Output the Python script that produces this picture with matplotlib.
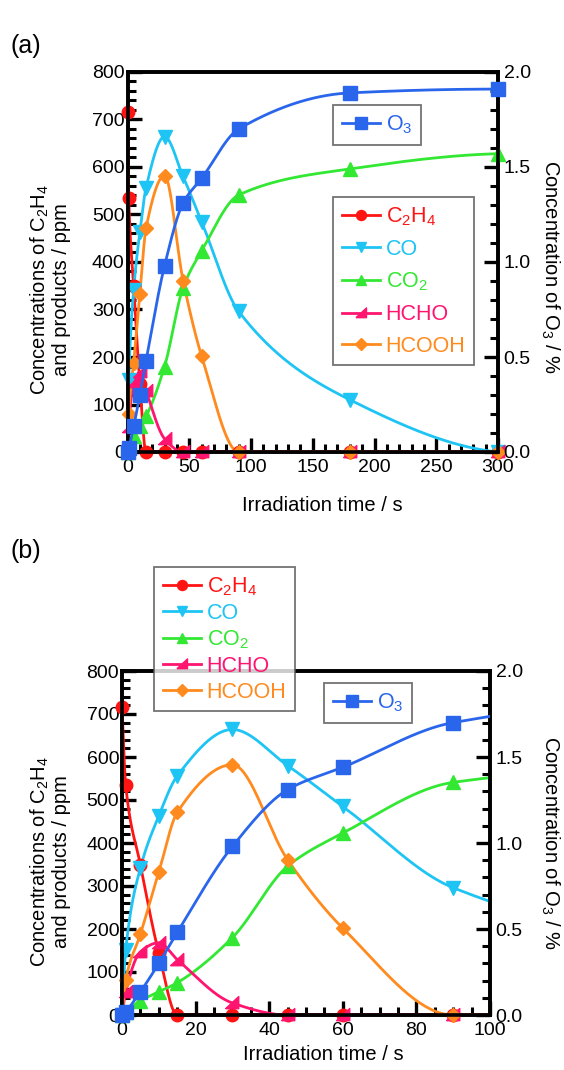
import numpy as np
import matplotlib
matplotlib.use("Agg")
import matplotlib.pyplot as plt
from matplotlib.lines import Line2D
from matplotlib.ticker import MultipleLocator, FormatStrFormatter

plt.rcParams['font.family'] = ['Liberation Sans', 'DejaVu Sans']
plt.rcParams['mathtext.fontset'] = 'custom'
plt.rcParams['mathtext.rm'] = 'Liberation Sans'
plt.rcParams['mathtext.it'] = 'Liberation Sans'
plt.rcParams['mathtext.default'] = 'regular'

# ---------------- data ----------------
time_s = [0, 1, 5, 10, 15, 30, 45, 60, 90, 180, 300]
c2h4 = [716, 535, 349, 144, 0, 0, 0, 0, 0, 0, 0]
co = [0, 151, 342, 463, 556, 664, 580, 485, 296, 110, 0]
co2 = [0, 8, 33, 54, 75, 180, 346, 423, 541, 596, 628]
hcho = [0, 53, 147, 168, 129, 28, 0, 0, 0, 0, 0]
hcooh = [0, 81, 188, 332, 471, 582, 361, 202, 0, 0, 0]
o3 = [0, 0.02, 0.135, 0.30, 0.48, 0.98, 1.31, 1.44, 1.70, 1.89, 1.91]

names = ['C$_2$H$_4$', 'CO', 'CO$_2$', 'HCHO', 'HCOOH']
o3_name = 'O$_3$'

col = {'c2h4': '#ff1414', 'co': '#1ec4f4', 'co2': '#33e833',
       'hcho': '#ff1470', 'hcooh': '#ff8a1e', 'o3': '#2a66ec'}

hcho_marker = [(-1.0, -0.75), (0.9, 1.0), (0.9, -0.75), (-1.0, -0.75)]

series = [
    (c2h4, col['c2h4'], 'o', 9),
    (co, col['co'], 'v', 9.5),
    (co2, col['co2'], '^', 9.5),
    (hcho, col['hcho'], hcho_marker, 10),
    (hcooh, col['hcooh'], 'D', 7.5),
]


def pchip(x, y, xn):
    x = np.asarray(x, float)
    y = np.asarray(y, float)
    h = np.diff(x)
    d = np.diff(y) / h
    n = len(x)
    m = np.zeros(n)
    for k in range(1, n - 1):
        if d[k - 1] * d[k] > 0:
            w1 = 2 * h[k] + h[k - 1]
            w2 = h[k] + 2 * h[k - 1]
            m[k] = (w1 + w2) / (w1 / d[k - 1] + w2 / d[k])

    def endslope(h0, h1, d0, d1):
        s = ((2 * h0 + h1) * d0 - h0 * d1) / (h0 + h1)
        if np.sign(s) != np.sign(d0):
            s = 0.0
        elif np.sign(d0) != np.sign(d1) and abs(s) > abs(3 * d0):
            s = 3 * d0
        return s

    m[0] = endslope(h[0], h[1], d[0], d[1])
    m[-1] = endslope(h[-1], h[-2], d[-1], d[-2])
    idx = np.clip(np.searchsorted(x, xn) - 1, 0, n - 2)
    t = (xn - x[idx]) / h[idx]
    h00 = 2 * t**3 - 3 * t**2 + 1
    h10 = t**3 - 2 * t**2 + t
    h01 = -2 * t**3 + 3 * t**2
    h11 = t**3 - t**2
    return (h00 * y[idx] + h10 * h[idx] * m[idx] +
            h01 * y[idx + 1] + h11 * h[idx] * m[idx + 1])


W, H = 564, 1070
fig = plt.figure(figsize=(W / 100, H / 100), dpi=100)


def fr(l, t, r, b):
    return [l / W, 1 - b / H, (r - l) / W, (b - t) / H]


def draw_panel(rect, xmax, xmaj, xmin):
    ax = fig.add_axes(rect)
    ax2 = ax.twinx()
    xs = np.linspace(0, max(time_s), 3000)
    tt = np.asarray(time_s, float)
    keep = tt <= xmax + 1e-9
    for vals, c, mk, ms in series:
        ax.plot(xs, pchip(time_s, vals, xs), color=c, lw=2.0, zorder=3)
        ax.plot(tt[keep], np.asarray(vals)[keep], ls='none', marker=mk,
                ms=ms, color=c, mec=c, clip_on=False, zorder=4)
    ax2.plot(xs, pchip(time_s, o3, xs), color=col['o3'], lw=2.0, zorder=3)
    ax2.plot(tt[keep], np.asarray(o3)[keep], ls='none', marker='s', ms=9.5,
             color=col['o3'], clip_on=False, zorder=4)

    ax.set_xlim(0, xmax)
    ax.set_ylim(0, 800)
    ax2.set_ylim(0, 2.0)
    ax.xaxis.set_major_locator(MultipleLocator(xmaj))
    ax.xaxis.set_minor_locator(MultipleLocator(xmin))
    ax.yaxis.set_major_locator(MultipleLocator(100))
    ax.yaxis.set_minor_locator(MultipleLocator(20))
    ax2.yaxis.set_major_locator(MultipleLocator(0.5))
    ax2.yaxis.set_minor_locator(MultipleLocator(0.1))
    ax2.yaxis.set_major_formatter(FormatStrFormatter('%.1f'))
    for a in (ax, ax2):
        for s in a.spines.values():
            s.set_linewidth(2.6)
        a.tick_params(which='major', direction='in', length=10, width=2.4,
                      labelsize=14, pad=2)
        a.tick_params(which='minor', direction='in', length=5.5, width=2.2)
    ax.tick_params(axis='x', which='major', pad=5)
    ax2.tick_params(axis='y', which='major', pad=4)
    ax.tick_params(which='both', top=False, right=False)
    ax2.tick_params(which='both', top=False, left=False)
    ax.set_zorder(1)
    ax2.set_zorder(2)
    ax.patch.set_visible(True)
    ax2.patch.set_visible(False)
    return ax, ax2


axA, axA2 = draw_panel(fr(127.5, 72, 498, 452), 300, 50, 10)
axB, axB2 = draw_panel(fr(122, 671, 490, 1015), 100, 20, 5)

ylab = 'Concentrations of C$_2$H$_4$\nand products / ppm'
rlab = 'Concentration of O$_3$ / %'
for ax, ax2, yc, xc in [(axA, axA2, 290, 322), (axB, axB2, 862, 323)]:
    pos = ax.get_position()
    ax.set_ylabel(ylab, fontsize=14.5, linespacing=1.05)
    ax.yaxis.set_label_coords((50 - pos.x0 * W) / (pos.width * W),
                              ((1 - pos.y0) * H - yc) / (pos.height * H))
    ax.yaxis.label.set_va('center')
    ax2.set_ylabel(rlab, fontsize=14.5, rotation=-90)
    ax2.yaxis.set_label_coords((550 - pos.x0 * W) / (pos.width * W),
                               0.5 + (-5 if ax is axA else 0) / (pos.height * H))
    ax2.yaxis.label.set_va('center')
    ax.set_xlabel('Irradiation time / s', fontsize=14.5)
    xlab_y = 505 if ax is axA else 1055
    ax.xaxis.set_label_coords((xc - pos.x0 * W) / (pos.width * W),
                              ((1 - pos.y0) * H - xlab_y) / (pos.height * H))
    ax.xaxis.label.set_va('center')

fig.text(10 / W, 1 - 46 / H, '(a)', fontsize=18, va='center', ha='left')
fig.text(10 / W, 1 - 551 / H, '(b)', fontsize=18, va='center', ha='left')

handles = [Line2D([], [], color=c, lw=2.0, marker=mk, ms=ms * 0.8, mec=c)
           for _, c, mk, ms in series]
o3_handle = [Line2D([], [], color=col['o3'], lw=2.0, marker='s', ms=8)]


def add_legend(hs, labs, colors, box, spacing):
    l, t, r, b = box
    leg = fig.legend(hs, labs, loc='upper left',
                     bbox_to_anchor=(l / W, 1 - t / H), frameon=True,
                     fancybox=False, fontsize=15.5, handlelength=1.8,
                     handletextpad=0.25, labelspacing=spacing,
                     borderpad=0.4, borderaxespad=0.0)
    fr_ = leg.get_frame()
    fr_.set_edgecolor('#505050')
    fr_.set_linewidth(1.3)
    for txt, c in zip(leg.get_texts(), colors):
        txt.set_color(c)
    return leg


series_cols = [c for _, c, _, _ in series]
add_legend(handles, names, series_cols, (333, 197, 467, 365), 0.5)
add_legend(o3_handle, [o3_name], [col['o3']], (333, 105, 417, 152), 0.4)
add_legend(handles, names, series_cols, (154, 567, 290, 711), 0.22)
add_legend(o3_handle, [o3_name], [col['o3']], (324, 683, 408, 727), 0.4)

fig.savefig('out.png', dpi=100)
